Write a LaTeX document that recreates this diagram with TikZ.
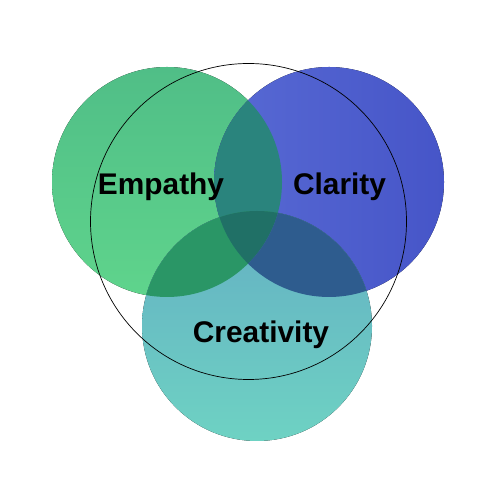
\documentclass[tikz,border=0pt]{standalone}
\usepackage{fontspec}
\setmainfont{Liberation Sans}
\usepackage{tikz}
\usetikzlibrary{positioning}
\definecolor{empgreen}{RGB}{80,190,135}
\definecolor{emplight}{RGB}{95,212,140}
\definecolor{clablue}{RGB}{88,106,212}
\definecolor{cladark}{RGB}{70,85,200}
\definecolor{cretop}{RGB}{100,175,195}
\definecolor{crebot}{RGB}{110,210,195}
\definecolor{empcla}{RGB}{42,132,125}
\definecolor{empcre}{RGB}{42,150,102}
\definecolor{clacre}{RGB}{46,92,142}
\definecolor{allthree}{RGB}{32,112,102}
\tikzset{label text/.style={font=\fontsize{17}{20}\selectfont\bfseries,
  text=black,anchor=base}}

\begin{document}
\begin{tikzpicture}[line cap=round]

  \useasboundingbox (0,0) rectangle (10,10);

  \coordinate (emp) at (3.34,6.36);
  \coordinate (cla) at (6.58,6.36);
  \coordinate (cre) at (5.14,3.48);
  \coordinate (ring) at (4.97,5.57);

  \fill [top color=empgreen,bottom color=emplight] (emp) circle (2.3);
  \fill [left color=clablue,right color=cladark] (cla) circle (2.3);
  \fill [top color=cretop,bottom color=crebot] (cre) circle (2.3);


  \begin{scope}
    \clip (emp) circle (2.3);
    \fill [empcla] (cla) circle (2.3);
    \fill [empcre] (cre) circle (2.3);
    \clip (cla) circle (2.3);
    \fill [allthree] (cre) circle (2.3);
  \end{scope}
  \begin{scope}[even odd rule]
    \clip (cla) circle (2.3);
    \clip (cre) circle (2.3);
    \fill [clacre] (emp) circle (2.3) (-1,-1) rectangle (11,11);
  \end{scope}


  \draw [thin] (ring) circle (3.16);


  \node [label text] (empathy) at (3.22,6.1) {Empathy};
  \node [label text] (clarity) at (6.79,6.11) {Clarity};
  \node [label text] (creativity) at (5.22,3.14) {Creativity};

\end{tikzpicture}
\end{document}
